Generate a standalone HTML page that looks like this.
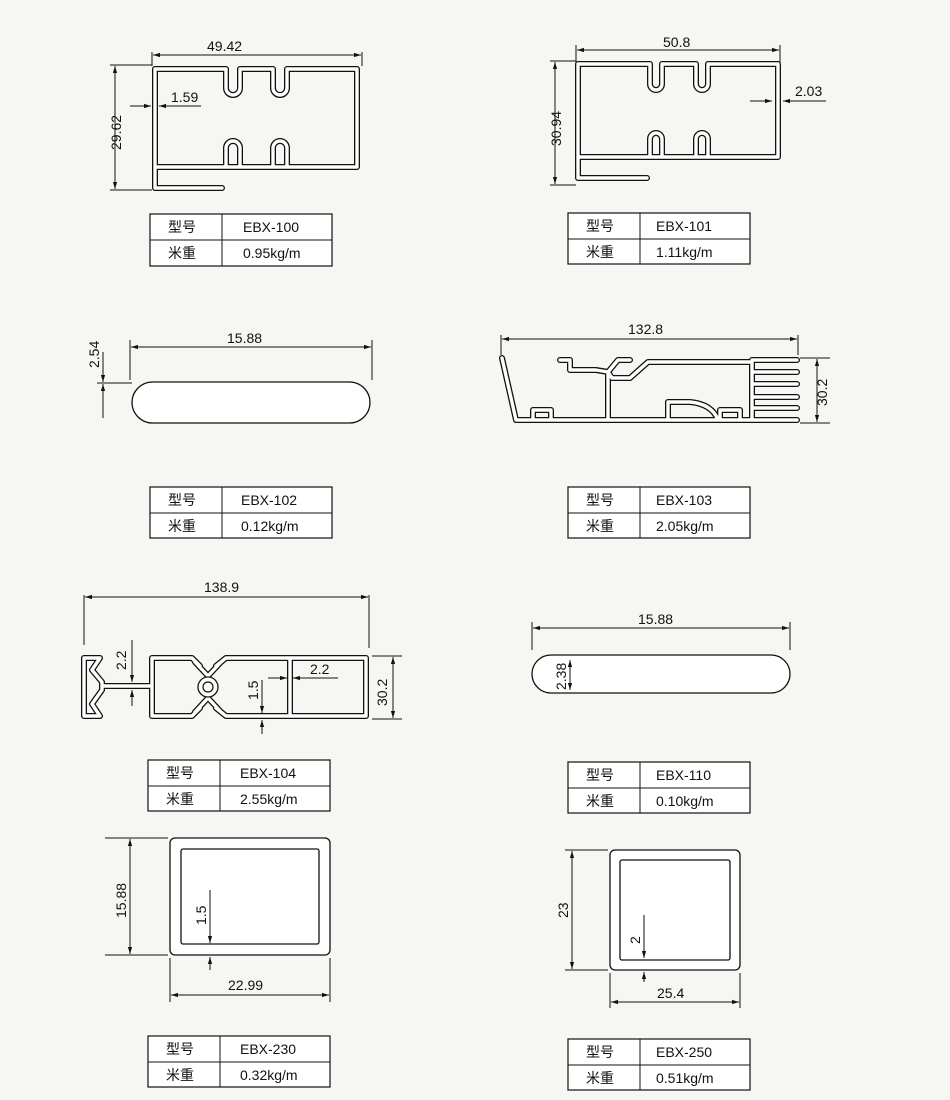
<!DOCTYPE html>
<html><head><meta charset="utf-8"><style>
body{margin:0;background:#f6f6f3;}
svg{display:block}
text{font-family:"Liberation Sans","Noto Sans CJK SC",sans-serif;fill:#111;font-size:14px}
.t{font-size:14px}
.d{stroke:#111;stroke-width:1;fill:none}
.o{stroke:#111;stroke-width:6;fill:none;stroke-linejoin:round;stroke-linecap:round}
.i{stroke:#fff;stroke-width:3.4;fill:none;stroke-linejoin:round;stroke-linecap:round}
.b{stroke:#111;stroke-width:1.3;fill:#fff}
.tb{stroke:#111;stroke-width:1.2;fill:#fff}
</style></head><body>
<svg width="950" height="1100" viewBox="0 0 950 1100" xmlns="http://www.w3.org/2000/svg">
<defs>
<marker id="a" viewBox="0 0 10 10" refX="10" refY="5" markerWidth="7" markerHeight="7" orient="auto-start-reverse"><path d="M0,2 L10,5 L0,8z" fill="#111"/></marker>
</defs>
<rect width="950" height="1100" fill="#f6f6f3"/>

<!-- EBX-100 -->
<g id="p100">
<path d="M357,69 L357,167 L155,167 M222,188 L155,188 L155,69 L226,69 L226,88 a7,7 0 0 0 14,0 L240,69 L273,69 L273,88 a7,7 0 0 0 14,0 L287,69 L357,69 M226,167 L226,148 a7,7 0 0 1 14,0 L240,167 M273,167 L273,148 a7,7 0 0 1 14,0 L287,167 M155,167 L155,188" class="o"/>
<path d="M357,69 L357,167 L155,167 M222,188 L155,188 L155,69 L226,69 L226,88 a7,7 0 0 0 14,0 L240,69 L273,69 L273,88 a7,7 0 0 0 14,0 L287,69 L357,69 M226,167 L226,148 a7,7 0 0 1 14,0 L240,167 M273,167 L273,148 a7,7 0 0 1 14,0 L287,167 M155,167 L155,188" class="i"/>
</g>
<line x1="152" y1="52" x2="152" y2="66" class="d"/><line x1="362" y1="52" x2="362" y2="66" class="d"/>
<line x1="153" y1="55" x2="361" y2="55" class="d" marker-start="url(#a)" marker-end="url(#a)"/>
<text x="207" y="51">49.42</text>
<line x1="110" y1="65" x2="152" y2="65" class="d"/><line x1="110" y1="190" x2="152" y2="190" class="d"/>
<line x1="115" y1="66" x2="115" y2="189" class="d" marker-start="url(#a)" marker-end="url(#a)"/>
<text x="0" y="0" transform="translate(121,150) rotate(-90)">29.62</text>
<line x1="130" y1="106" x2="151" y2="106" class="d" marker-end="url(#a)"/>
<line x1="201" y1="106" x2="159" y2="106" class="d" marker-end="url(#a)"/>
<text x="171" y="102">1.59</text>

<!-- EBX-101 -->
<g>
<path d="M778,64 L778,157 L578,157 M647,178 L578,178 L578,64 L650,64 L650,84 a6,6 0 0 0 12,0 L662,64 L696,64 L696,84 a6,6 0 0 0 12,0 L708,64 L778,64 M650,157 L650,139 a6,6 0 0 1 12,0 L662,157 M696,157 L696,139 a6,6 0 0 1 12,0 L708,157 M578,157 L578,178" class="o"/>
<path d="M778,64 L778,157 L578,157 M647,178 L578,178 L578,64 L650,64 L650,84 a6,6 0 0 0 12,0 L662,64 L696,64 L696,84 a6,6 0 0 0 12,0 L708,64 L778,64 M650,157 L650,139 a6,6 0 0 1 12,0 L662,157 M696,157 L696,139 a6,6 0 0 1 12,0 L708,157 M578,157 L578,178" class="i"/>
</g>
<line x1="576" y1="45" x2="576" y2="62" class="d"/><line x1="780" y1="45" x2="780" y2="62" class="d"/>
<line x1="577" y1="50" x2="779" y2="50" class="d" marker-start="url(#a)" marker-end="url(#a)"/>
<text x="663" y="47">50.8</text>
<line x1="550" y1="61" x2="576" y2="61" class="d"/><line x1="550" y1="185" x2="576" y2="185" class="d"/>
<line x1="555" y1="62" x2="555" y2="184" class="d" marker-start="url(#a)" marker-end="url(#a)"/>
<text transform="translate(561,146) rotate(-90)">30.94</text>
<line x1="750" y1="101" x2="772" y2="101" class="d" marker-end="url(#a)"/>
<line x1="826" y1="101" x2="783" y2="101" class="d" marker-end="url(#a)"/>
<text x="795" y="96">2.03</text>

<!-- EBX-102 -->
<rect x="132" y="382" width="238" height="41" rx="20.5" class="b" stroke-width="2.6"/>
<rect x="134.5" y="384.5" width="233" height="36" rx="18" fill="none" stroke="#fff" stroke-width="1"/>
<line x1="130" y1="340" x2="130" y2="380" class="d"/><line x1="372" y1="340" x2="372" y2="380" class="d"/>
<line x1="131" y1="347" x2="371" y2="347" class="d" marker-start="url(#a)" marker-end="url(#a)"/>
<text x="227" y="343">15.88</text>
<line x1="97" y1="383" x2="132" y2="383" class="d"/>
<line x1="103" y1="352" x2="103" y2="382" class="d" marker-end="url(#a)"/>
<line x1="103" y1="418" x2="103" y2="384" class="d" marker-end="url(#a)"/>
<text transform="translate(99,368) rotate(-90)">2.54</text>

<!-- EBX-103 -->
<g>
<path d="M502,358 L516,420 L797,420 M533,420 L533,410 L551,410 L551,420 M752,420 L752,360 L797,360 M752,384 L797,384 M752,397 L797,397 M752,408 L797,408 M752,372 L797,372 M608,420 L608,372 M560,360 L570,360 L570,370 L596,370 L608,372 L618,360 L630,360 M608,372 L612,378 L630,378 L648,362 L752,362 M668,420 L668,402 L690,402 Q712,404 718,420 M720,420 L720,410 L740,410 L740,420" class="o"/>
<path d="M502,358 L516,420 L797,420 M533,420 L533,410 L551,410 L551,420 M752,420 L752,360 L797,360 M752,384 L797,384 M752,397 L797,397 M752,408 L797,408 M752,372 L797,372 M608,420 L608,372 M560,360 L570,360 L570,370 L596,370 L608,372 L618,360 L630,360 M608,372 L612,378 L630,378 L648,362 L752,362 M668,420 L668,402 L690,402 Q712,404 718,420 M720,420 L720,410 L740,410 L740,420" class="i"/>
</g>
<line x1="501" y1="335" x2="501" y2="355" class="d"/><line x1="798" y1="335" x2="798" y2="355" class="d"/>
<line x1="502" y1="339" x2="797" y2="339" class="d" marker-start="url(#a)" marker-end="url(#a)"/>
<text x="628" y="334">132.8</text>
<line x1="800" y1="358" x2="830" y2="358" class="d"/><line x1="800" y1="423" x2="830" y2="423" class="d"/>
<line x1="817" y1="359" x2="817" y2="422" class="d" marker-start="url(#a)" marker-end="url(#a)"/>
<text transform="translate(827,406) rotate(-90)">30.2</text>

<!-- EBX-104 -->
<g>
<path d="M84,658 L100,658 L92,670 L102,682 L102,690 L92,704 L100,716 L84,716 Z M102,686 L152,686 M152,658 L152,716 L192,716 L200,708 M152,658 L192,658 L200,666 M195,662 L208,676 L221,662 M195,712 L208,698 L221,712 M216,666 L226,658 L366,658 L366,716 L226,716 L216,708 M290,658 L290,716" class="o"/>
<path d="M84,658 L100,658 L92,670 L102,682 L102,690 L92,704 L100,716 L84,716 Z M102,686 L152,686 M152,658 L152,716 L192,716 L200,708 M152,658 L192,658 L200,666 M195,662 L208,676 L221,662 M195,712 L208,698 L221,712 M216,666 L226,658 L366,658 L366,716 L226,716 L216,708 M290,658 L290,716" class="i"/>
<circle cx="208" cy="687" r="10" class="b" stroke-width="1.3"/>
<circle cx="208" cy="687" r="5" fill="#fff" stroke="#111" stroke-width="1.2"/>
</g>
<line x1="84" y1="595" x2="84" y2="645" class="d"/><line x1="369" y1="595" x2="369" y2="648" class="d"/>
<line x1="85" y1="597" x2="368" y2="597" class="d" marker-start="url(#a)" marker-end="url(#a)"/>
<text x="204" y="592">138.9</text>
<line x1="132" y1="640" x2="132" y2="682" class="d" marker-end="url(#a)"/>
<line x1="132" y1="706" x2="132" y2="690" class="d" marker-end="url(#a)"/>
<text transform="translate(126,670) rotate(-90)">2.2</text>
<line x1="268" y1="678" x2="287" y2="678" class="d" marker-end="url(#a)"/>
<line x1="338" y1="678" x2="293" y2="678" class="d" marker-end="url(#a)"/>
<text x="310" y="674">2.2</text>
<line x1="262" y1="680" x2="262" y2="713" class="d" marker-end="url(#a)"/>
<line x1="262" y1="734" x2="262" y2="720" class="d" marker-end="url(#a)"/>
<text transform="translate(258,700) rotate(-90)">1.5</text>
<line x1="372" y1="656" x2="402" y2="656" class="d"/><line x1="372" y1="719" x2="402" y2="719" class="d"/>
<line x1="393" y1="657" x2="393" y2="718" class="d" marker-start="url(#a)" marker-end="url(#a)"/>
<text transform="translate(387,706) rotate(-90)">30.2</text>

<!-- EBX-110 -->
<rect x="532" y="655" width="258" height="38" rx="19" class="b" stroke-width="2.6"/>
<rect x="534.5" y="657.5" width="253" height="33" rx="16.5" fill="none" stroke="#fff" stroke-width="1"/>
<line x1="532" y1="622" x2="532" y2="650" class="d"/><line x1="790" y1="622" x2="790" y2="650" class="d"/>
<line x1="533" y1="628" x2="789" y2="628" class="d" marker-start="url(#a)" marker-end="url(#a)"/>
<text x="638" y="624">15.88</text>
<line x1="570" y1="660" x2="570" y2="690" class="d" marker-start="url(#a)" marker-end="url(#a)"/>
<text transform="translate(566,690) rotate(-90)">2.38</text>

<!-- EBX-230 -->
<rect x="170" y="838" width="160" height="117" rx="5" class="b" stroke-width="1.4"/>
<rect x="181" y="849" width="138" height="95" rx="2" class="b" stroke-width="1.4"/>
<line x1="105" y1="838" x2="168" y2="838" class="d"/><line x1="105" y1="955" x2="168" y2="955" class="d"/>
<line x1="130" y1="839" x2="130" y2="954" class="d" marker-start="url(#a)" marker-end="url(#a)"/>
<text transform="translate(126,918) rotate(-90)">15.88</text>
<line x1="210" y1="890" x2="210" y2="943" class="d" marker-end="url(#a)"/>
<line x1="210" y1="970" x2="210" y2="957" class="d" marker-end="url(#a)"/>
<text transform="translate(206,925) rotate(-90)">1.5</text>
<line x1="170" y1="958" x2="170" y2="1002" class="d"/><line x1="330" y1="958" x2="330" y2="1002" class="d"/>
<line x1="171" y1="995" x2="329" y2="995" class="d" marker-start="url(#a)" marker-end="url(#a)"/>
<text x="228" y="990">22.99</text>

<!-- EBX-250 -->
<rect x="610" y="850" width="130" height="120" rx="5" class="b" stroke-width="1.4"/>
<rect x="620" y="860" width="110" height="100" rx="2" class="b" stroke-width="1.4"/>
<line x1="565" y1="850" x2="608" y2="850" class="d"/><line x1="565" y1="970" x2="608" y2="970" class="d"/>
<line x1="572" y1="851" x2="572" y2="969" class="d" marker-start="url(#a)" marker-end="url(#a)"/>
<text transform="translate(568,918) rotate(-90)">23</text>
<line x1="644" y1="915" x2="644" y2="958" class="d" marker-end="url(#a)"/>
<line x1="644" y1="982" x2="644" y2="972" class="d" marker-end="url(#a)"/>
<text transform="translate(640,944) rotate(-90)">2</text>
<line x1="610" y1="973" x2="610" y2="1008" class="d"/><line x1="740" y1="973" x2="740" y2="1008" class="d"/>
<line x1="611" y1="1002" x2="739" y2="1002" class="d" marker-start="url(#a)" marker-end="url(#a)"/>
<text x="657" y="998">25.4</text>

<!-- tables -->
<g>
<rect x="150" y="214" width="182" height="52" class="tb"/><line x1="150" y1="240" x2="332" y2="240" class="d"/><line x1="222" y1="214" x2="222" y2="266" class="d"/>
<text class="t" x="168" y="232">型号</text><text class="t" x="243" y="232">EBX-100</text>
<text class="t" x="168" y="258">米重</text><text class="t" x="243" y="258">0.95kg/m</text>
</g>
<g>
<rect x="568" y="213" width="182" height="51" class="tb"/><line x1="568" y1="239" x2="750" y2="239" class="d"/><line x1="640" y1="213" x2="640" y2="264" class="d"/>
<text class="t" x="586" y="231">型号</text><text class="t" x="656" y="231">EBX-101</text>
<text class="t" x="586" y="257">米重</text><text class="t" x="656" y="257">1.11kg/m</text>
</g>
<g>
<rect x="150" y="487" width="182" height="51" class="tb"/><line x1="150" y1="513" x2="332" y2="513" class="d"/><line x1="222" y1="487" x2="222" y2="538" class="d"/>
<text class="t" x="168" y="505">型号</text><text class="t" x="241" y="505">EBX-102</text>
<text class="t" x="168" y="531">米重</text><text class="t" x="241" y="531">0.12kg/m</text>
</g>
<g>
<rect x="568" y="487" width="182" height="51" class="tb"/><line x1="568" y1="513" x2="750" y2="513" class="d"/><line x1="640" y1="487" x2="640" y2="538" class="d"/>
<text class="t" x="586" y="505">型号</text><text class="t" x="656" y="505">EBX-103</text>
<text class="t" x="586" y="531">米重</text><text class="t" x="656" y="531">2.05kg/m</text>
</g>
<g>
<rect x="148" y="760" width="182" height="51" class="tb"/><line x1="148" y1="786" x2="330" y2="786" class="d"/><line x1="220" y1="760" x2="220" y2="811" class="d"/>
<text class="t" x="166" y="778">型号</text><text class="t" x="240" y="778">EBX-104</text>
<text class="t" x="166" y="804">米重</text><text class="t" x="240" y="804">2.55kg/m</text>
</g>
<g>
<rect x="568" y="762" width="182" height="51" class="tb"/><line x1="568" y1="788" x2="750" y2="788" class="d"/><line x1="640" y1="762" x2="640" y2="813" class="d"/>
<text class="t" x="586" y="780">型号</text><text class="t" x="656" y="780">EBX-110</text>
<text class="t" x="586" y="806">米重</text><text class="t" x="656" y="806">0.10kg/m</text>
</g>
<g>
<rect x="148" y="1036" width="182" height="51" class="tb"/><line x1="148" y1="1062" x2="330" y2="1062" class="d"/><line x1="220" y1="1036" x2="220" y2="1087" class="d"/>
<text class="t" x="166" y="1054">型号</text><text class="t" x="240" y="1054">EBX-230</text>
<text class="t" x="166" y="1080">米重</text><text class="t" x="240" y="1080">0.32kg/m</text>
</g>
<g>
<rect x="568" y="1039" width="182" height="51" class="tb"/><line x1="568" y1="1065" x2="750" y2="1065" class="d"/><line x1="640" y1="1039" x2="640" y2="1090" class="d"/>
<text class="t" x="586" y="1057">型号</text><text class="t" x="656" y="1057">EBX-250</text>
<text class="t" x="586" y="1083">米重</text><text class="t" x="656" y="1083">0.51kg/m</text>
</g>
</svg>
</body></html>
